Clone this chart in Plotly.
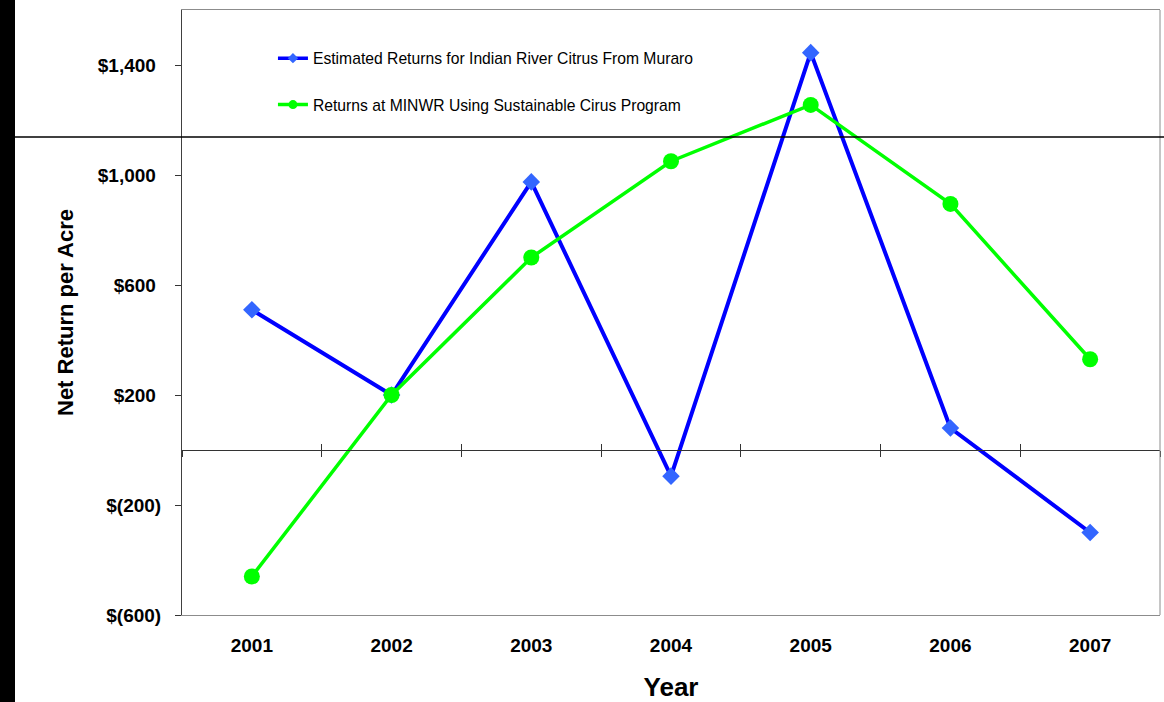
import plotly.graph_objects as go

# Net return per acre, 2001-2007
years = [2001, 2002, 2003, 2004, 2005, 2006, 2007]
muraro_returns = [510, 200, 975, -95, 1445, 80, -300]
minwr_returns = [-460, 200, 700, 1050, 1255, 895, 330]

series_names = [
    "Estimated Returns for Indian River Citrus From Muraro",
    "Returns at MINWR Using Sustainable Cirus Program",
]

y_tick_values = [-600, -200, 200, 600, 1000, 1400]
y_tick_labels = ["$(600)", "$(200)", "$200\u00a0", "$600\u00a0", "$1,000\u00a0", "$1,400\u00a0"]

# category boundaries, where the tick marks sit on the zero line
year_bounds = [y - 0.5 for y in years] + [years[-1] + 0.5]

FONT = "Liberation Sans, Arial, sans-serif"
Y_MIN, Y_MAX = -600, 1600
X_RANGE = [years[0] - 0.5, years[-1] + 0.5]

styles = [
    dict(line=dict(color="#0000FF", width=4), symbol="diamond", size=13.5,
         legend_size=8, marker_color="#3366FF"),
    dict(line=dict(color="#00FF00", width=3.5), symbol="circle", size=16,
         legend_size=9, marker_color="#00FF00"),
]

fig = go.Figure()

for name, values, st, grp in zip(series_names, [muraro_returns, minwr_returns], styles, "ab"):
    fig.add_trace(go.Scatter(
        x=years, y=values, name=name, mode="lines+markers",
        line=st["line"],
        marker=dict(symbol=st["symbol"], size=st["size"], color=st["marker_color"]),
        legendgroup=grp, showlegend=False,
    ))
    # legend entry with smaller markers
    fig.add_trace(go.Scatter(
        x=[None], y=[None], name=name, mode="lines+markers",
        line=dict(color=st["line"]["color"], width=3.5),
        marker=dict(symbol=st["symbol"], size=st["legend_size"], color=st["marker_color"]),
        legendgroup=grp, showlegend=True, hoverinfo="skip",
    ))

# placeholders so the zero-line axes get drawn
for ax in ("x2", "x3"):
    fig.add_trace(go.Scatter(x=[None], y=[None], xaxis=ax, showlegend=False,
                             hoverinfo="skip"))

zero_pos = (0 - Y_MIN) / (Y_MAX - Y_MIN)

zero_axis = dict(
    overlaying="x", anchor="free", position=zero_pos, range=X_RANGE,
    tickmode="array", tickvals=year_bounds, showticklabels=False,
    ticklen=6, tickwidth=1, tickcolor="#333333",
    showline=True, linecolor="#333333", linewidth=1,
    showgrid=False, zeroline=False,
)

fig.update_layout(
    width=1164, height=702,
    margin=dict(l=182, r=4, t=10, b=87),
    paper_bgcolor="white", plot_bgcolor="white",
    font=dict(family=FONT, color="black"),
    showlegend=True,
    legend=dict(
        x=0.093, y=0.948, xanchor="left", yanchor="top",
        font=dict(family=FONT, size=15.7, color="black"),
        bgcolor="rgba(0,0,0,0)", tracegroupgap=23,
        itemwidth=30,
    ),
    xaxis=dict(
        range=X_RANGE, tickmode="array", tickvals=years,
        ticktext=[str(y) for y in years], ticks="",
        tickfont=dict(family=FONT, size=19, color="black", weight="bold"),
        ticklabelstandoff=13, automargin=False,
        showline=True, linecolor="#8c8c8c", linewidth=1, mirror=True,
        showgrid=False, zeroline=False,
        title=dict(text="<b>Year</b>", font=dict(family=FONT, size=26), standoff=26),
    ),
    xaxis2=dict(zero_axis, ticks="outside"),
    xaxis3=dict(zero_axis, ticks="inside"),
    yaxis=dict(
        range=[Y_MIN, Y_MAX], tickmode="array", tickvals=y_tick_values,
        ticktext=y_tick_labels, ticks="outside", ticklen=6, tickcolor="#333333",
        tickfont=dict(family=FONT, size=19, color="black", weight="bold"),
        ticklabelstandoff=10, automargin=False,
        showline=True, linecolor="#404040", linewidth=1,
        showgrid=False, zeroline=False,
        title=dict(text="<b>Net Return per Acre</b>", font=dict(family=FONT, size=22),
                   standoff=18),
    ),
    shapes=[
        # right edge of the plot frame
        dict(type="line", xref="paper", yref="paper", x0=1, x1=1, y0=0, y1=1,
             line=dict(color="#8c8c8c", width=1)),
        # dark strip down the left margin
        dict(type="rect", xref="paper", yref="paper",
             x0=-182 / 978, x1=(15 - 182) / 978, y0=-90 / 605, y1=1 + 12 / 605,
             fillcolor="black", line=dict(width=0)),
        # page rule crossing the chart
        dict(type="line", xref="paper", yref="paper",
             x0=(15 - 182) / 978, x1=1 + 4 / 978,
             y0=(615 - 137) / 605, y1=(615 - 137) / 605,
             line=dict(color="black", width=1.5)),
    ],
)

fig.write_html("out.html")
